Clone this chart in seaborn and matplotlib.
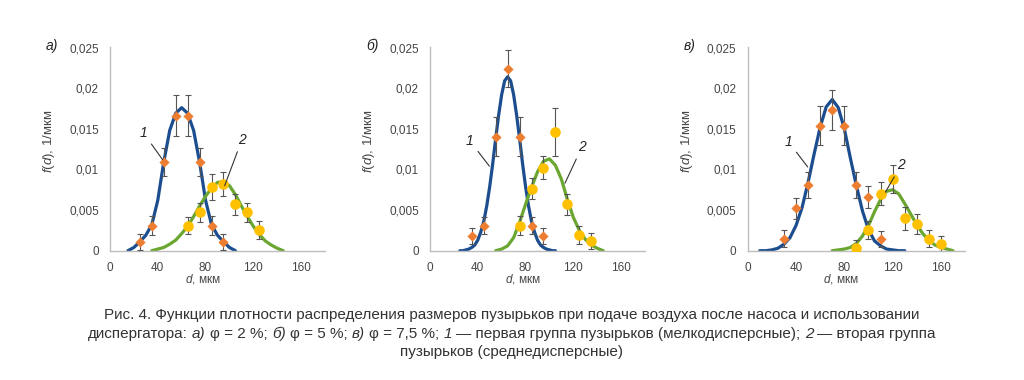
import matplotlib
matplotlib.use("Agg")
import matplotlib.pyplot as plt
import seaborn as sns
from matplotlib.offsetbox import TextArea, HPacker, AnchoredOffsetbox

sns.set_theme(style="white")
plt.rcParams['font.family'] = ['Liberation Sans', 'DejaVu Sans']
plt.rcParams['mathtext.fontset'] = 'custom'
plt.rcParams['mathtext.rm'] = 'Liberation Sans'
plt.rcParams['mathtext.it'] = 'Liberation Sans:italic'

# ---------------- data ----------------
# panel а)
a_curve1_x = [15, 20, 25, 30, 35, 40, 45, 50, 55, 60, 65, 70, 75, 80, 85, 90, 95, 100, 105]
a_curve1_y = [0.0000, 0.0004, 0.0011, 0.0019, 0.0032, 0.0062, 0.0109, 0.0148, 0.0169, 0.0176,
              0.0169, 0.0148, 0.0109, 0.0062, 0.0032, 0.0019, 0.0011, 0.0004, 0.0000]
a_curve2_x = [35, 40, 45, 50, 55, 60, 65, 70, 75, 80, 85, 90, 95, 100, 105, 110, 115, 120,
              125, 130, 135, 140, 145]
a_curve2_y = [0.0000, 0.0002, 0.0004, 0.0008, 0.0013, 0.0021, 0.0030, 0.0042, 0.0055, 0.0067,
              0.0077, 0.0084, 0.0085, 0.0080, 0.0069, 0.0055, 0.0042, 0.0030, 0.0020, 0.0012,
              0.0007, 0.0003, 0.0000]
a_pts1_x = [25, 35, 45, 55, 65, 75, 85, 95]
a_pts1_y = [0.0011, 0.0031, 0.0109, 0.0166, 0.0166, 0.0109, 0.0031, 0.0011]
a_err1 = [0.0010, 0.0012, 0.0017, 0.0025, 0.0025, 0.0017, 0.0012, 0.0010]
a_pts2_x = [65, 75, 85, 95, 105, 115, 125]
a_pts2_y = [0.0031, 0.0047, 0.0078, 0.0082, 0.0057, 0.0047, 0.0026]
a_err2 = [0.0011, 0.0012, 0.0016, 0.0015, 0.0013, 0.0012, 0.0011]

# panel б)
b_curve1_x = [25, 27.5, 30, 32.5, 35, 37.5, 40, 42.5, 45, 47.5, 50, 52.5, 55, 57.5, 60, 62.5, 65,
              67.5, 70, 72.5, 75, 77.5, 80, 82.5, 85, 87.5, 90, 92.5, 95, 97.5, 100, 102.5, 105]
b_curve1_y = [0.0000, 0.0000, 0.0001, 0.0002, 0.0004, 0.0007, 0.0013, 0.0023, 0.0036, 0.0055,
              0.0079, 0.0107, 0.0138, 0.0167, 0.0192, 0.0209, 0.0214,
              0.0209, 0.0192, 0.0167, 0.0138, 0.0107, 0.0079, 0.0055, 0.0036, 0.0023,
              0.0013, 0.0007, 0.0004, 0.0002, 0.0001, 0.0000, 0.0000]
b_curve2_x = [55, 60, 65, 70, 75, 80, 85, 90, 95, 100, 105, 110, 115, 120, 125, 130, 135, 140, 145]
b_curve2_y = [0.0000, 0.0002, 0.0006, 0.0016, 0.0035, 0.0057, 0.0078, 0.0097, 0.0110, 0.0113,
              0.0105, 0.0088, 0.0063, 0.0041, 0.0025, 0.0014, 0.0007, 0.0003, 0.0000]
b_pts1_x = [35, 45, 55, 65, 75, 85, 95]
b_pts1_y = [0.0018, 0.0031, 0.0140, 0.0224, 0.0140, 0.0031, 0.0018]
b_err1 = [0.0010, 0.0011, 0.0024, 0.0023, 0.0024, 0.0011, 0.0010]
b_pts2_x = [75, 85, 95, 105, 115, 125, 135]
b_pts2_y = [0.0031, 0.0076, 0.0102, 0.0146, 0.0057, 0.0019, 0.0012]
b_err2 = [0.0012, 0.0013, 0.0014, 0.0029, 0.0013, 0.0011, 0.0010]

# panel в)
c_curve1_x = [10, 15, 20, 25, 30, 35, 40, 45, 50, 55, 60, 65, 70, 75, 80, 85, 90, 95, 100,
              105, 110, 115, 120, 125, 130]
c_curve1_y = [0.0000, 0.0000, 0.0001, 0.0003, 0.0008, 0.0016, 0.0031, 0.0053, 0.0084, 0.0119,
              0.0152, 0.0177, 0.0186, 0.0176, 0.0150, 0.0114, 0.0080, 0.0049, 0.0026, 0.0012,
              0.0006, 0.0002, 0.0001, 0.0000, 0.0000]
c_curve2_x = [70, 75, 80, 85, 90, 95, 100, 105, 110, 115, 120, 125, 130, 135, 140, 145, 150,
              155, 160, 165, 170]
c_curve2_y = [0.0000, 0.0001, 0.0002, 0.0004, 0.0009, 0.0018, 0.0031, 0.0048, 0.0063, 0.0073,
              0.0075, 0.0070, 0.0058, 0.0045, 0.0032, 0.0021, 0.0013, 0.0007, 0.0004, 0.0002,
              0.0000]
c_pts1_x = [30, 40, 50, 60, 70, 80, 90, 100, 110]
c_pts1_y = [0.0015, 0.0052, 0.0081, 0.0154, 0.0173, 0.0154, 0.0081, 0.0066, 0.0014]
c_err1 = [0.0010, 0.0013, 0.0016, 0.0024, 0.0025, 0.0024, 0.0016, 0.0013, 0.0010]
c_pts2_x = [90, 100, 110, 120, 130, 140, 150, 160]
c_pts2_y = [0.0003, 0.0026, 0.0070, 0.0088, 0.0040, 0.0033, 0.0015, 0.0008]
c_err2 = [0.0010, 0.0011, 0.0014, 0.0017, 0.0014, 0.0012, 0.0010, 0.0010]

x_ticks = [0, 40, 80, 120, 160]
x_tick_labels = ["0", "40", "80", "120", "160"]
y_ticks = [0, 0.005, 0.01, 0.015, 0.02, 0.025]
y_tick_labels = ["0", "0,005", "0,01", "0,015", "0,02", "0,025"]

panel_letters = ["а)", "б)", "в)"]
label1_pos = [(28, 0.0145), (33.5, 0.0135), (33.7, 0.0134)]
label1_target = [(44, 0.0112), (49.7, 0.0104), (49.7, 0.0103)]
label2_pos = [(110.3, 0.0136), (127, 0.0127), (126.8, 0.0105)]
label2_target = [(96, 0.0080), (113, 0.0083), (114, 0.0072)]

caption_line1 = ("Рис. 4. Функции плотности распределения размеров пузырьков при подаче "
                 "воздуха после насоса и использовании")
caption_line2 = [("диспергатора:", "normal"), ("а)", "italic"), ("φ = 2 %;", "normal"),
                 ("б)", "italic"), ("φ = 5 %;", "normal"), ("в)", "italic"),
                 ("φ = 7,5 %;", "normal"), ("1", "italic"),
                 ("— первая группа пузырьков (мелкодисперсные);", "normal"),
                 ("2", "italic"), ("— вторая группа", "normal")]
caption_line3 = "пузырьков (среднедисперсные)"

# ---------------- style ----------------
BLUE = "#1c4e8f"
GREEN = "#6aa630"
ORANGE = "#ed7d31"
YELLOW = "#ffc000"
ERR = "#555555"
TXT = "#454545"
SPINE = "#bdbdbd"
CAP_FS = 11

fig = plt.figure(figsize=(10.24, 3.8), dpi=100)
W, H = 1024, 380
ax_boxes = [(110, 215), (430, 215), (747.7, 217.4)]
letter_pos = [(52, 46), (372, 46), (690, 46)]

panels = [
    (a_curve1_x, a_curve1_y, a_curve2_x, a_curve2_y, a_pts1_x, a_pts1_y, a_err1, a_pts2_x, a_pts2_y, a_err2),
    (b_curve1_x, b_curve1_y, b_curve2_x, b_curve2_y, b_pts1_x, b_pts1_y, b_err1, b_pts2_x, b_pts2_y, b_err2),
    (c_curve1_x, c_curve1_y, c_curve2_x, c_curve2_y, c_pts1_x, c_pts1_y, c_err1, c_pts2_x, c_pts2_y, c_err2),
]

y0_px, y1_px = 250.7, 47.5
for i, (c1x, c1y, c2x, c2y, p1x, p1y, e1, p2x, p2y, e2) in enumerate(panels):
    left, width = ax_boxes[i]
    ax = fig.add_axes([left / W, 1 - y0_px / H, width / W, (y0_px - y1_px) / H])
    sns.lineplot(x=c1x, y=c1y, ax=ax, color=BLUE, linewidth=2.3, zorder=2)
    sns.lineplot(x=c2x, y=c2y, ax=ax, color=GREEN, linewidth=2.3, zorder=2)
    ax.errorbar(p1x, p1y, yerr=e1, fmt="none", ecolor=ERR, elinewidth=0.8,
                capsize=2.3, capthick=0.8, zorder=3)
    ax.errorbar(p2x, p2y, yerr=e2, fmt="none", ecolor=ERR, elinewidth=0.8,
                capsize=2.3, capthick=0.8, zorder=3)
    sns.scatterplot(x=p1x, y=p1y, ax=ax, marker="D", s=27, color=ORANGE,
                    linewidth=0, zorder=4)
    sns.scatterplot(x=p2x, y=p2y, ax=ax, marker="o", s=58, color=YELLOW,
                    linewidth=0, zorder=4)

    ax.set_xlim(0, 180)
    ax.set_ylim(0, 0.025)
    ax.set_xticks(x_ticks)
    ax.set_xticklabels(x_tick_labels)
    ax.set_yticks(y_ticks)
    ax.set_yticklabels(y_tick_labels)
    ax.tick_params(axis="both", length=0, labelsize=8.5, labelcolor=TXT)
    ax.tick_params(axis="y", pad=8)
    ax.tick_params(axis="x", pad=8)
    for s in ["top", "right"]:
        ax.spines[s].set_visible(False)
    for s in ["left", "bottom"]:
        ax.spines[s].set_color(SPINE)
        ax.spines[s].set_linewidth(1.0)
    ax.set_facecolor("white")
    ax.grid(False)

    ax.set_xlabel(r"$\mathit{d}$, мкм", fontsize=8.5, color=TXT)
    ax.set_ylabel(r"$\mathit{f}$($\mathit{d}$), 1/мкм", fontsize=9.5, color=TXT)
    ax.xaxis.set_label_coords(0.43, -0.105)
    ax.yaxis.set_label_coords(-53 / width, 0.54)

    ax.annotate("1", xy=label1_target[i], xytext=label1_pos[i], fontsize=10,
                fontstyle="italic", color="#222222", ha="center", va="center",
                arrowprops=dict(arrowstyle="-", color="#333333", lw=0.8,
                                shrinkA=1, shrinkB=0), zorder=5)
    ax.annotate("2", xy=label2_target[i], xytext=label2_pos[i], fontsize=10,
                fontstyle="italic", color="#222222", ha="center", va="center",
                arrowprops=dict(arrowstyle="-", color="#333333", lw=0.8,
                                shrinkA=1, shrinkB=0), zorder=5)

    lx, ly = letter_pos[i]
    fig.text(lx / W, 1 - ly / H, panel_letters[i], fontsize=10, fontstyle="italic",
             color="#222222", ha="center", va="center")

# caption
fig.text(0.5, 1 - 315 / H, caption_line1, fontsize=CAP_FS, color="#333333",
         ha="center", va="center")
areas = [TextArea(t, textprops=dict(fontsize=CAP_FS, color="#333333", fontstyle=st))
         for t, st in caption_line2]
packer = HPacker(children=areas, align="baseline", pad=0, sep=0.278 * CAP_FS)
box = AnchoredOffsetbox(loc="center", child=packer, pad=0, borderpad=0, frameon=False,
                        bbox_to_anchor=(0.5, 1 - 334 / H), bbox_transform=fig.transFigure)
fig.add_artist(box)
fig.text(0.5, 1 - 352 / H, caption_line3, fontsize=CAP_FS, color="#333333",
         ha="center", va="center")

fig.savefig("out.png", dpi=100, facecolor="white")
